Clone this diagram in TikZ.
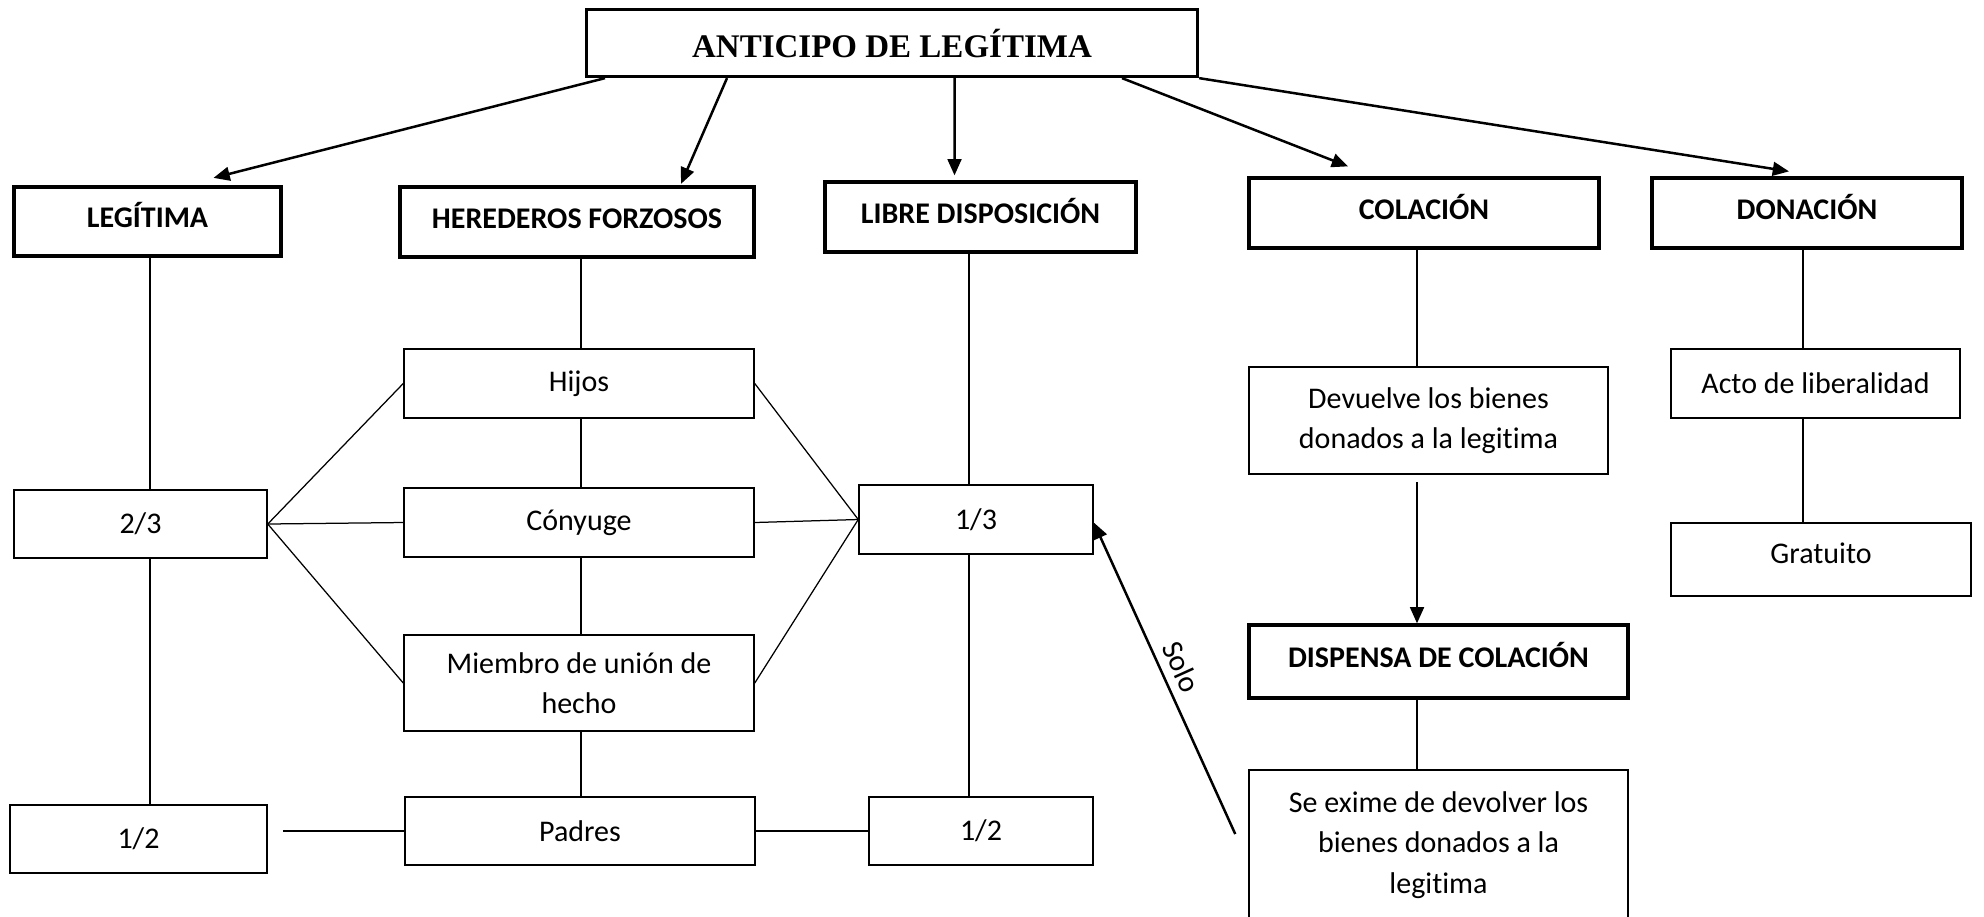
\documentclass[tikz,border=0pt]{standalone}
\usepackage{fontspec}
\setmainfont{Carlito}[Ligatures=NoCommon]
\newfontfamily\titlefont{Liberation Serif}
\usetikzlibrary{arrows.meta}
\begin{document}
\begin{tikzpicture}[x=0.4pt,y=-0.4pt,line join=miter,>={Triangle[length=6.5pt,width=5.5pt]}]
	\tikzset{every node/.style={font=\fontsize{12}{16.2}\selectfont,align=center,inner sep=0pt},
		titlebox/.style={draw,line width=1.3pt,font=\titlefont\fontsize{13.2}{15}\selectfont\bfseries},
		headbox/.style={draw,line width=1.3pt,text height=9pt,text depth=4pt,font=\fontsize{12}{16.2}\selectfont\bfseries},
		itembox/.style={draw,line width=0.6pt},
		link/.style={line width=0.5pt},
		arr/.style={->,line width=1pt}}
	\clip (0,0) rectangle (1984,916);
	\fill[white] (0,0) rectangle (1984,916);
	\node[titlebox,minimum width=244.4pt,minimum height=26.8pt] (top) at (892,43) {ANTICIPO DE LEGÍTIMA};
	\node[headbox,minimum width=106.8pt,minimum height=27.6pt] (leg) at (147.5,221.5) {LEGÍTIMA};
	\node[headbox,minimum width=141.6pt,minimum height=28pt] (her) at (577,222) {HEREDEROS FORZOSOS};
	\node[headbox,minimum width=124.4pt,minimum height=28pt] (lib) at (980.5,217) {LIBRE DISPOSICIÓN};
	\node[headbox,minimum width=140pt,minimum height=28pt] (col) at (1424,213) {COLACIÓN};
	\node[headbox,minimum width=124pt,minimum height=28pt] (don) at (1807,213) {DONACIÓN};
	\node[itembox,minimum width=101.2pt,minimum height=27.2pt] (dosT) at (140.5,524) {2/3};
	\node[itembox,minimum width=102.8pt,minimum height=27.2pt] (medL) at (138.5,839) {1/2};
	\node[itembox,minimum width=140pt,minimum height=27.6pt] (hijos) at (579,383.5) {Hijos};
	\node[itembox,minimum width=140pt,minimum height=27.6pt] (cony) at (579,522.5) {Cónyuge};
	\node[itembox,minimum width=140pt,minimum height=38.4pt] (miem) at (579,683) {Miembro de unión de\\hecho};
	\node[itembox,minimum width=140pt,minimum height=27.2pt] (padres) at (580,831) {Padres};
	\node[itembox,minimum width=93.6pt,minimum height=27.6pt] (unT) at (976,519.5) {1/3};
	\node[itembox,minimum width=89.6pt,minimum height=27.2pt] (medR) at (981,831) {1/2};
	\node[itembox,minimum width=143.6pt,minimum height=42.8pt] (dev) at (1428.5,420.5) {Devuelve los bienes\\donados a la legitima};
	\node[headbox,minimum width=151.6pt,minimum height=29.2pt] (disp) at (1438.5,661.5) {DISPENSA DE COLACIÓN};
	\node[itembox,minimum width=151.6pt,minimum height=60pt] (seex) at (1438.5,845) {Se exime de devolver los\\bienes donados a la\\legitima};
	\node[itembox,minimum width=115.6pt,minimum height=27.6pt] (acto) at (1815.5,383.5) {Acto de liberalidad};
	\node[itembox,minimum width=120pt,minimum height=29.2pt,text height=9pt,text depth=6pt] (grat) at (1821,559.5) {Gratuito};
	\coordinate (xLeg) at (150,0);
	\coordinate (xHer) at (581,0);
	\coordinate (xLib) at (969,0);
	\coordinate (xCol) at (1417,0);
	\coordinate (xDon) at (1803,0);
	\foreach \a/\b/\s in {leg/dosT/xLeg,dosT/medL/xLeg,her/hijos/xHer,hijos/cony/xHer,cony/miem/xHer,miem/padres/xHer,lib/unT/xLib,unT/medR/xLib,col/dev/xCol,disp/seex/xCol,don/acto/xDon,acto/grat/xDon}
	\draw[link] (\a.south -| \s) -- (\b.north -| \s);
	\foreach \b in {hijos,cony,miem}
	{\draw[link] (dosT.east) -- (\b.west);
	\draw[link] (\b.east) -- (unT.west);}
	\draw[link,shorten <=6pt] (medL.east |- padres.west) -- (padres.west);
	\draw[link] (padres.east) -- (medR.west |- padres.east);
	\draw[arr] ([xshift=-114.8pt]top.south) -- ([xshift=26.4pt,yshift=3pt]leg.north);
	\draw[arr] ([xshift=-66pt]top.south) -- ([xshift=41.6pt,yshift=0.6pt]her.north);
	\draw[arr] ([xshift=25pt]top.south) -- ([xshift=-10.4pt,yshift=2pt]lib.north);
	\draw[arr] ([xshift=92pt]top.south) -- ([xshift=-30.4pt,yshift=4pt]col.north);
	\draw[arr] (top.south east) -- ([xshift=-7.2pt,yshift=2pt]don.north);
	\draw[arr] ([yshift=-2.8pt]dev.south -| xCol) -- (disp.north -| xCol);
	\draw[arr] ([xshift=-5.2pt,yshift=4.4pt]seex.west) -- node[sloped,above,inner sep=3.5pt,pos=0.51] {Solo} ([yshift=-1.2pt]unT.east);
\end{tikzpicture}
\end{document}
